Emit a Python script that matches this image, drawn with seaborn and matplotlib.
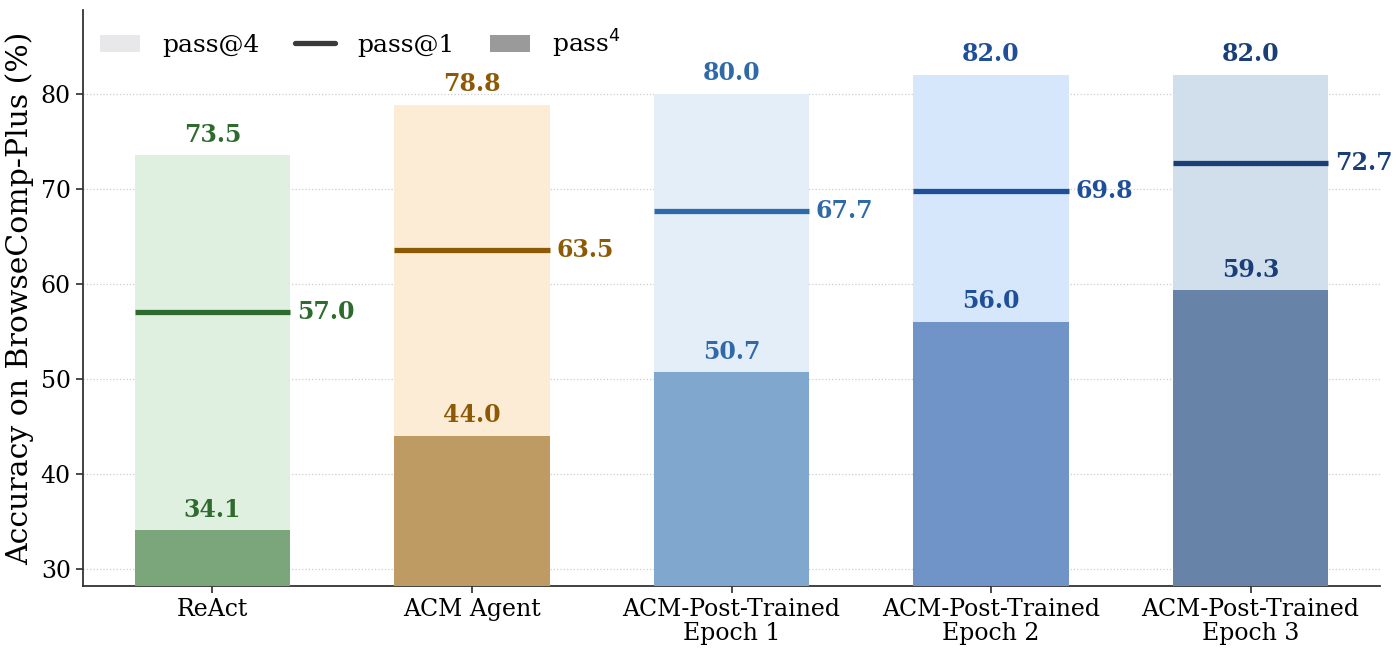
import matplotlib
matplotlib.use("Agg")
import matplotlib.pyplot as plt
import seaborn as sns
import numpy as np
import pandas as pd
from matplotlib.patches import Patch
from matplotlib.lines import Line2D

categories = ["ReAct", "ACM Agent", "ACM-Post-Trained\nEpoch 1",
              "ACM-Post-Trained\nEpoch 2", "ACM-Post-Trained\nEpoch 3"]
pass_at_4 = [73.5, 78.8, 80.0, 82.0, 82.0]
pass_at_1 = [57.0, 63.5, 67.7, 69.8, 72.7]
pass_pow_4 = [34.1, 44.0, 50.7, 56.0, 59.3]

light_colors = ["#e0f0e0", "#fcecd6", "#e3eef9", "#d6e6fb", "#d0dfeb"]
dark_colors = ["#7ba67b", "#bd9b63", "#80a7cd", "#7094c8", "#6783a8"]
text_colors = ["#2e6b2e", "#8c5a05", "#3069a8", "#1f4f99", "#1a3f77"]

sns.set_theme(style="white")
plt.rcParams["font.family"] = ["DejaVu Serif", "DejaVu Sans"]
plt.rcParams["text.color"] = "black"
plt.rcParams["axes.labelcolor"] = "black"
plt.rcParams["xtick.color"] = "black"
plt.rcParams["ytick.color"] = "black"

fig, ax = plt.subplots(figsize=(14, 6.55), dpi=100)
fig.subplots_adjust(left=0.059, right=0.986, top=0.985, bottom=0.105)

df = pd.DataFrame({"cat": categories, "p4": pass_at_4, "pp4": pass_pow_4})
sns.barplot(data=df, x="cat", y="p4", hue="cat", palette=light_colors,
            width=0.6, ax=ax, legend=False, saturation=1, zorder=2,
            linewidth=0, edgecolor="none")
sns.barplot(data=df, x="cat", y="pp4", hue="cat", palette=dark_colors,
            width=0.6, ax=ax, legend=False, saturation=1, zorder=3,
            linewidth=0, edgecolor="none")

for i, (a4, a1, p4) in enumerate(zip(pass_at_4, pass_at_1, pass_pow_4)):
    c = text_colors[i]
    ax.hlines(a1, i - 0.3, i + 0.3, color=c, lw=3.8, zorder=4)
    ax.text(i, a4 + 0.9, f"{a4:.1f}", ha="center", va="bottom", color=c,
            fontsize=17, fontweight="bold")
    ax.text(i, p4 + 0.9, f"{p4:.1f}", ha="center", va="bottom", color=c,
            fontsize=17, fontweight="bold")
    ax.text(i + 0.325, a1, f"{a1:.1f}", ha="left", va="center", color=c,
            fontsize=17, fontweight="bold")

ax.set_ylim(28.2, 88.8)
ax.set_xlim(-0.5, 4.5)
ax.set_yticks([30, 40, 50, 60, 70, 80])
ax.yaxis.grid(True, linestyle=":", color="#cccccc", lw=0.9, zorder=0)
ax.set_axisbelow(True)
ax.set_xlabel("")
ax.set_ylabel("Accuracy on BrowseComp-Plus (%)", fontsize=21.5, labelpad=5)
ax.tick_params(axis="y", labelsize=17, left=True, length=5, color="#333333")
ax.tick_params(axis="x", labelsize=17, bottom=True, length=5, color="#333333")
for lab in ax.get_xticklabels():
    lab.set_linespacing(1.05)
sns.despine(ax=ax)
for s in ["left", "bottom"]:
    ax.spines[s].set_color("#333333")
    ax.spines[s].set_linewidth(1.3)

handles = [Patch(facecolor="#e8e8ea", edgecolor="none"),
           Line2D([0], [0], color="#3a3a3a", lw=3.8),
           Patch(facecolor="#9a9a9a", edgecolor="none")]
ax.legend(handles, ["pass@4", "pass@1", "pass$^4$"], loc="upper left",
          ncol=3, frameon=False, fontsize=18, handlelength=1.6,
          handletextpad=0.9, columnspacing=1.4,
          bbox_to_anchor=(0.0, 1.0), borderaxespad=0.3)

fig.savefig("out.png", dpi=100)
